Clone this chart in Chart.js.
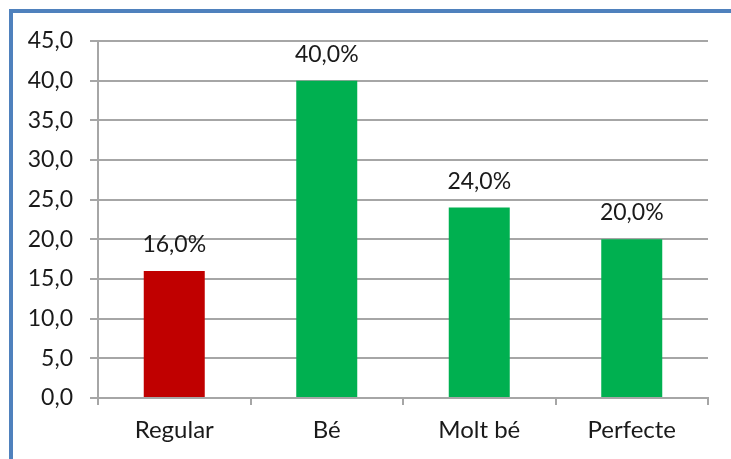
<!DOCTYPE html>
<html>
<head>
<meta charset="utf-8">
<script src="https://cdn.jsdelivr.net/npm/chart.js@4.4.0/dist/chart.umd.min.js"></script>
<style>
  html, body { margin: 0; padding: 0; background: #fff; overflow: hidden; }
  .wrap { position: relative; width: 731px; height: 459px; overflow: hidden; }
  .frame-top { position: absolute; left: 9px; top: 9px; width: 722px; height: 4px; background: #4f81bd; }
  .frame-left { position: absolute; left: 9px; top: 9px; width: 4px; height: 450px; background: #4f81bd; }
  canvas { position: absolute; left: 0; top: 0; }
</style>
</head>
<body>
<div class="wrap">
  <canvas id="chart" width="731" height="459"></canvas>
  <div class="frame-top"></div>
  <div class="frame-left"></div>
</div>
<script>
const categories = ['Regular', 'Bé', 'Molt bé', 'Perfecte'];
const values = [16.0, 40.0, 24.0, 20.0];
const barColors = ['#c00000', '#00b050', '#00b050', '#00b050'];
const yTicks = [0, 5, 10, 15, 20, 25, 30, 35, 40, 45];

const FONT = 'Lato, "Open Sans", sans-serif';
const TEXT = '#1a1a1a';
const GRID = '#a6a6a6';

function comma(v, d) {
  return v.toFixed(d).replace('.', ',');
}

// draws the "40,0%" style labels above each bar
const barLabels = {
  id: 'barLabels',
  afterDatasetsDraw(chart) {
    const ctx = chart.ctx;
    const meta = chart.getDatasetMeta(0);
    ctx.save();
    ctx.font = '23px ' + FONT;
    ctx.fillStyle = TEXT;
    ctx.textAlign = 'center';
    ctx.textBaseline = 'alphabetic';
    meta.data.forEach((bar, i) => {
      ctx.fillText(comma(values[i], 1) + '%', bar.x, bar.y - 19);
    });
    ctx.restore();
  }
};

const ctx = document.getElementById('chart').getContext('2d');
new Chart(ctx, {
  type: 'bar',
  data: {
    labels: categories,
    datasets: [{
      data: values,
      backgroundColor: barColors,
      borderWidth: 0,
      barPercentage: 0.4,
      categoryPercentage: 1.0
    }]
  },
  options: {
    responsive: false,
    animation: false,
    layout: { padding: { top: 41, right: 23, bottom: 0, left: 0 } },
    plugins: {
      legend: { display: false },
      tooltip: { enabled: false }
    },
    scales: {
      x: {
        grid: {
          offset: true,
          drawOnChartArea: false,
          drawTicks: true,
          tickLength: 7,
          color: GRID,
          lineWidth: 2
        },
        border: { display: true, color: GRID, width: 2 },
        ticks: {
          color: TEXT,
          font: { family: FONT, size: 24 },
          padding: 11
        },
        afterFit(scale) { scale.height = 61; }
      },
      y: {
        min: 0,
        max: 45,
        afterBuildTicks(scale) { scale.ticks = yTicks.map(v => ({ value: v })); },
        grid: {
          color: GRID,
          lineWidth: 2,
          drawTicks: true,
          tickLength: 8
        },
        border: { display: true, color: GRID, width: 2 },
        ticks: {
          color: TEXT,
          font: { family: FONT, size: 23 },
          padding: 17,
          callback: v => comma(v, 1)
        },
        afterFit(scale) { scale.width = 98; }
      }
    }
  },
  plugins: [barLabels]
});
</script>
</body>
</html>
